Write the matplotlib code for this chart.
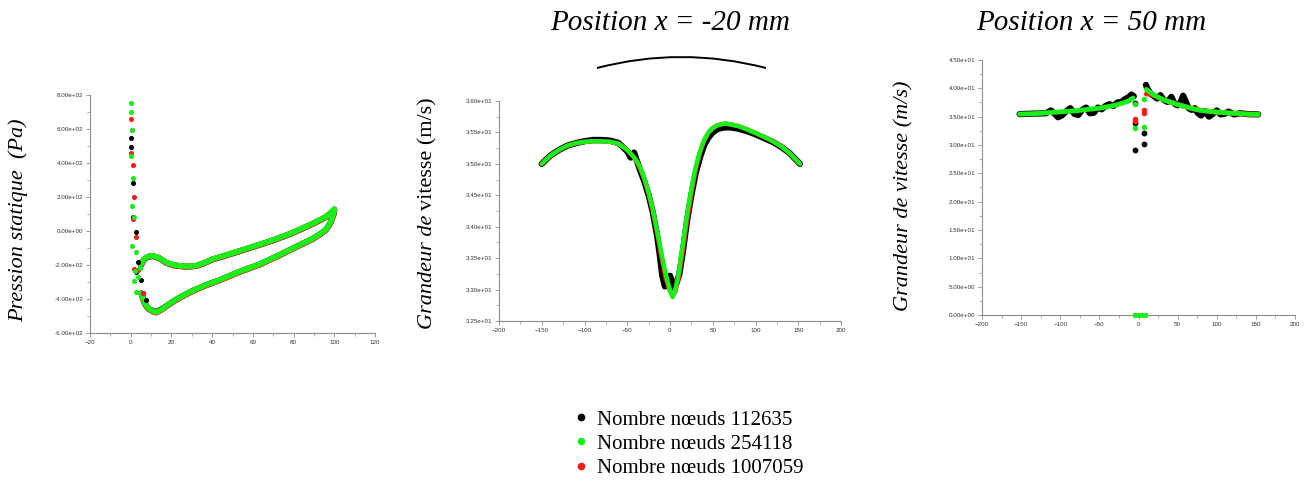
import matplotlib
matplotlib.use("Agg")
import matplotlib.pyplot as plt
from matplotlib.lines import Line2D
from matplotlib.patches import PathPatch
from matplotlib.path import Path
from matplotlib.ticker import MultipleLocator, AutoMinorLocator, FormatStrFormatter

# ---------------- data ----------------
LABELS = ["Nombre nœuds 112635", "Nombre nœuds 254118", "Nombre nœuds 1007059"]
COLORS = ["#000000", "#19f019", "#ff1a1a"]   # black, green, red

# left: static pressure (Pa) vs x
LE_X_K = [0.1, 0.1, 1.3, 1.3, 2.8, 3.8, 2.5, 5.2, 6.1, 7.7]
LE_Y_K = [548, 495, 280, 84, -4, -185, -244, -290, -362, -405]
LE_X_G = [0.0, 0.2, 0.7, 0.3, 1.1, 0.8, 1.6, 0.8, 2.5, 1.5, 2.5, 2.0, 3.6, 4.4]
LE_Y_G = [753, 700, 597, 440, 309, 147, 84, -86, -121, -295, -361, -238, -268, -219]
LE_X_R = [0.0, 0.8, 0.0, 1.1, 1.6, 1.0, 2.8, 1.8, 3.8, 6.0]
LE_Y_R = [657, 597, 460, 387, 202, 71, -33, -225, -229, -365]

X_UP = [5, 6.5, 8.5, 11, 14, 17.5, 21, 27, 32, 36, 40, 47, 55, 62, 70, 78, 85, 90, 95, 98, 100]
UP_G = [-200, -165, -150, -146, -158, -185, -200, -208, -204, -188, -166, -141, -111, -84, -53, -17, 20, 48, 78, 104, 130]
UP_K = [-203, -168, -152, -148, -160, -187, -202, -210, -206, -190, -168, -143, -113, -86, -55, -19, 18, 46, 76, 102, 126]
UP_R = [-202, -167, -151, -147, -159, -187, -202, -210, -206, -190, -168, -143, -113, -86, -55, -19, 18, 46, 76, 102, 125]

X_LO = [5.2, 6.9, 8.5, 11, 12.6, 15, 17.5, 20.8, 24.9, 30.6, 37, 43.8, 53.6, 63.4, 73, 83, 89.7, 93.8, 95.9, 97.9, 99.5, 100]
LO_G = [-365, -424, -453, -473, -477, -463, -440, -414, -385, -350, -317, -287, -238, -195, -141, -82, -43, -10, 10, 45, 94, 125]
LO_K = [-366, -426, -455, -471, -475, -461, -441, -415, -386, -351, -318, -288, -239, -196, -142, -83, -44, -12, 8, 43, 92, 122]
LO_R = [-367, -427, -457, -476, -480, -466, -443, -417, -388, -353, -320, -290, -241, -198, -144, -85, -46, -13, 7, 42, 91, 121]

# middle: velocity magnitude at x = -20 mm
X_MID = [-150, -140, -130, -120, -110, -100, -90, -80, -70, -60, -50, -45, -40, -35, -30,
         -25, -20, -15, -10, -5, 0, 3, 6, 10, 15, 20, 25, 30, 35, 40, 45, 50, 55, 60, 65,
         70, 80, 90, 100, 110, 120, 130, 140, 152]
V_MID_G = [35.0, 35.13, 35.22, 35.29, 35.33, 35.35, 35.36, 35.36, 35.35, 35.32, 35.22, 35.15,
           35.07, 34.95, 34.77, 34.55, 34.27, 33.93, 33.58, 33.25, 32.98, 32.88, 32.98, 33.25,
           33.72, 34.2, 34.6, 34.95, 35.2, 35.38, 35.5, 35.57, 35.61, 35.63, 35.64, 35.63, 35.6,
           35.55, 35.49, 35.43, 35.36, 35.28, 35.17, 35.0]
V_MID_R = [35.0, 35.13, 35.22, 35.29, 35.33, 35.35, 35.36, 35.36, 35.35, 35.32, 35.22, 35.15,
           35.06, 34.93, 34.75, 34.52, 34.24, 33.9, 33.52, 33.18, 32.98, 32.9, 32.96, 33.18,
           33.62, 34.1, 34.52, 34.9, 35.18, 35.37, 35.5, 35.57, 35.61, 35.63, 35.64, 35.63, 35.6,
           35.55, 35.49, 35.43, 35.36, 35.28, 35.17, 35.0]
X_MID_K = [-150, -140, -130, -120, -110, -100, -90, -80, -70, -60, -50, -46, -42, -38, -35,
           -30, -25, -20, -15, -12, -9, -6, -3, 0, 3, 5, 8, 11, 15, 20, 25, 30, 35, 40, 45,
           50, 55, 60, 65, 70, 80, 90, 100, 110, 120, 130, 140, 152]
V_MID_K = [35.0, 35.13, 35.22, 35.29, 35.33, 35.36, 35.38, 35.38, 35.37, 35.33, 35.2, 35.1,
           35.18, 35.02, 34.9, 34.72, 34.5, 34.22, 33.85, 33.55, 33.22, 33.05, 33.2, 33.22,
           33.1, 33.03, 33.12, 33.25, 33.6, 34.1, 34.5, 34.85, 35.1, 35.3, 35.42, 35.5, 35.55,
           35.57, 35.58, 35.58, 35.56, 35.52, 35.47, 35.41, 35.35, 35.27, 35.17, 35.0]

# right: velocity magnitude at x = 50 mm
XR_L = [-152, -140, -130, -120, -110, -100, -90, -80, -70, -60, -50, -40, -30, -20, -12, -7]
VR_L_G = [35.45, 35.5, 35.55, 35.65, 35.75, 35.85, 35.95, 36.05, 36.2, 36.35, 36.5, 36.75, 37.0, 37.4, 37.8, 38.3]
XR_R = [10, 15, 20, 30, 40, 50, 60, 70, 80, 90, 100, 110, 120, 130, 140, 153]
VR_R_G = [39.8, 39.3, 38.8, 38.1, 37.6, 37.15, 36.75, 36.4, 36.1, 35.95, 35.8, 35.7, 35.6, 35.55, 35.45, 35.4]
VR_R_R = [39.0, 39.0, 38.7, 38.1, 37.6, 37.15, 36.75, 36.4, 36.1, 35.95, 35.8, 35.7, 35.6, 35.55, 35.45, 35.4]

XR_K_L = [-152, -130, -118, -112, -107, -103, -98, -92, -87, -82, -77, -72, -67, -62, -57,
          -52, -47, -42, -37, -32, -27, -22, -17, -12, -9, -6]
VR_K_L = [35.45, 35.55, 35.6, 36.1, 35.5, 34.9, 35.2, 36.0, 36.5, 35.5, 35.3, 36.2, 36.6, 35.6,
          35.7, 36.6, 36.3, 36.9, 37.2, 36.9, 37.5, 37.6, 38.1, 38.5, 38.9, 38.6]
XR_K_R = [9.5, 12, 16, 20, 24, 28, 32, 37, 42, 46, 50, 54, 57, 60, 64, 68, 72, 76, 80, 85,
          90, 95, 100, 105, 110, 115, 122, 130, 140, 153]
VR_K_R = [40.6, 39.8, 39.0, 38.6, 38.2, 38.8, 38.0, 37.6, 38.5, 37.3, 37.0, 37.6, 38.7, 37.8,
          36.5, 36.2, 36.5, 35.6, 35.2, 36.0, 35.0, 35.5, 36.1, 35.4, 35.5, 35.9, 35.4, 35.6, 35.45, 35.4]

GAP_X_K = [-4.5, -4.5, -4.2, 7.0, 7.2]
GAP_V_K = [37.4, 33.8, 29.2, 30.1, 32.1]
GAP_X_G = [-4.5, -4.3, 7.0, 7.2]
GAP_V_G = [37.3, 33.0, 33.2, 38.2]
GAP_X_R = [-4.5, -4.5, 7.0, 7.0]
GAP_V_R = [34.6, 34.3, 35.7, 36.2]
ZERO_X = [-4, -2, 0, 2, 4, 6, 8]
ZERO_V = [0, 0, 0, 0, 0, 0, 0]

W, H = 1309, 486


def fx(px):
    return px / W


def fy(py):
    return 1 - py / H


def style_axes(ax, xlim, xstep, ylim, ystep):
    ax.set_xlim(*xlim)
    ax.set_ylim(*ylim)
    ax.xaxis.set_major_locator(MultipleLocator(xstep))
    ax.yaxis.set_major_locator(MultipleLocator(ystep))
    ax.xaxis.set_minor_locator(AutoMinorLocator(2))
    ax.yaxis.set_minor_locator(AutoMinorLocator(2))
    ax.yaxis.set_major_formatter(FormatStrFormatter("%.2e"))
    for s in ["top", "right"]:
        ax.spines[s].set_visible(False)
    for s in ["left", "bottom"]:
        ax.spines[s].set_color("#8c8c8c")
        ax.spines[s].set_linewidth(0.8)
    ax.tick_params(which="both", direction="out", colors="#8c8c8c",
                   labelcolor="#333333", labelsize=4.5, pad=2)
    ax.tick_params(which="major", length=3, width=0.6)
    ax.tick_params(which="minor", length=2, width=0.5)
    for lab in ax.get_xticklabels() + ax.get_yticklabels():
        lab.set_fontfamily("Liberation Sans")


fig = plt.figure(figsize=(W / 100, H / 100), dpi=100)

serif_it = dict(family="Liberation Serif", style="italic")

# ---- left panel ----
ax1 = fig.add_axes([fx(90), fy(333), fx(375 - 90), (333 - 95) / H])
for xs, ys, c, lw in [(X_UP, UP_K, COLORS[0], 4.3), (X_LO, LO_K, COLORS[0], 4.3),
                      (X_UP, UP_R, COLORS[2], 4.2), (X_LO, LO_R, COLORS[2], 4.2),
                      (X_UP, UP_G, COLORS[1], 4.0), (X_LO, LO_G, COLORS[1], 4.0)]:
    ax1.plot(xs, ys, color=c, lw=lw, solid_capstyle="round")
ax1.scatter(LE_X_K, LE_Y_K, s=7, color=COLORS[0], zorder=3)
ax1.scatter(LE_X_R, LE_Y_R, s=7, color=COLORS[2], zorder=3)
ax1.scatter(LE_X_G, LE_Y_G, s=7, color=COLORS[1], zorder=3)
style_axes(ax1, (-20, 120), 20, (-600, 800), 200)

# ---- middle panel ----
ax2 = fig.add_axes([fx(499), fy(321), fx(841 - 499), (321 - 101) / H])
ax2.plot(X_MID_K, V_MID_K, color=COLORS[0], lw=4.5, solid_capstyle="round")
ax2.plot(X_MID, V_MID_R, color=COLORS[2], lw=3.2, solid_capstyle="round")
ax2.plot(X_MID, V_MID_G, color=COLORS[1], lw=3.2, solid_capstyle="round")
style_axes(ax2, (-200, 200), 50, (32.5, 36.0), 0.5)

# ---- right panel ----
ax3 = fig.add_axes([fx(982), fy(315), fx(1295 - 982), (315 - 60) / H])
ax3.plot(XR_K_L, VR_K_L, color=COLORS[0], lw=4.5, solid_capstyle="round")
ax3.plot(XR_K_R, VR_K_R, color=COLORS[0], lw=4.5, solid_capstyle="round")
ax3.plot(XR_R, VR_R_R, color=COLORS[2], lw=3.5, solid_capstyle="round")
ax3.plot(XR_L, VR_L_G, color=COLORS[1], lw=3.5, solid_capstyle="round")
ax3.plot(XR_R, VR_R_G, color=COLORS[1], lw=3.5, solid_capstyle="round")
ax3.scatter(GAP_X_K, GAP_V_K, s=10, color=COLORS[0], zorder=3)
ax3.scatter(GAP_X_R, GAP_V_R, s=9, color=COLORS[2], zorder=3)
ax3.scatter(GAP_X_G, GAP_V_G, s=9, color=COLORS[1], zorder=3)
ax3.plot(ZERO_X, ZERO_V, color=COLORS[1], lw=3.5, clip_on=False, zorder=3)
style_axes(ax3, (-200, 200), 50, (0, 45), 5)

# ---- labels and titles ----
fig.text(fx(18), fy(220), "Pression statique  (Pa)", rotation=90,
         ha="center", va="center", fontsize=16, **serif_it)
t1 = fig.text(fx(428), fy(329), "Grandeur de", rotation=90, ha="center",
              va="bottom", fontsize=16, **serif_it)
fig.canvas.draw()
bb = t1.get_window_extent()
fig.text(fx(428), (bb.y1 + 5) / H, "vitesse (m/s)", rotation=90, ha="center",
         va="bottom", fontsize=16, family="Liberation Serif")
fig.text(fx(904), fy(196), "Grandeur de vitesse (m/s)", rotation=90,
         ha="center", va="center", fontsize=16, **serif_it)

fig.text(fx(670), fy(23), "Position x = -20 mm", ha="center", va="center",
         fontsize=21, **serif_it)
fig.text(fx(1091), fy(23), "Position x = 50 mm", ha="center", va="center",
         fontsize=21, **serif_it)

arc = Path([(fx(597), fy(68)), (fx(681), fy(46)), (fx(766), fy(68))],
           [Path.MOVETO, Path.CURVE3, Path.CURVE3])
fig.add_artist(PathPatch(arc, facecolor="none", edgecolor="black", lw=1.4,
                         transform=fig.transFigure))

handles = [Line2D([], [], ls="none", marker="o", ms=4.5, color=c) for c in COLORS]
fig.legend(handles, LABELS, loc="upper left", bbox_to_anchor=(fx(572), fy(410)),
           frameon=False, prop=dict(family="Liberation Serif", size=15),
           handlelength=0.9, handletextpad=0.3, labelspacing=0.22,
           borderpad=0, borderaxespad=0)

fig.savefig("out.png", dpi=100)
